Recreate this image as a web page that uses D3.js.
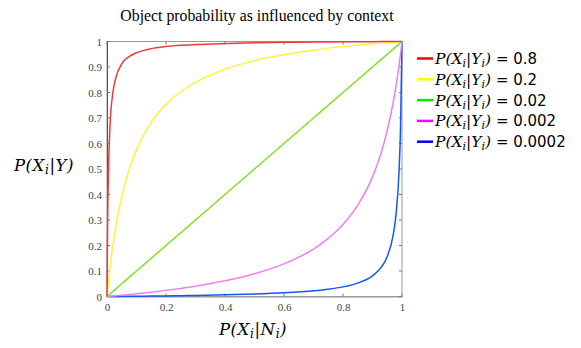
<!DOCTYPE html>
<html><head><meta charset="utf-8">
<script src="https://cdn.jsdelivr.net/npm/d3@7"></script>
<style>body{margin:0;background:#fff}</style>
</head><body>
<svg id="c" width="581" height="348"></svg>
<script>
const xs = [0,0.002,0.005,0.01,0.02,0.03,0.05,0.075,0.1,0.15,0.2,0.25,0.3,0.4,0.5,0.6,0.7,0.75,0.8,0.85,0.9,0.93,0.95,0.97,0.98,0.99,0.995,1];
const red = [0,0.282,0.496,0.664,0.8,0.858,0.912,0.941,0.956,0.972,0.98,0.985,0.988,0.992,0.995,0.9966,0.9978,0.9983,0.9987,0.9991,0.9994,0.9996,0.9997,0.9998,0.9999,0.99995,1,1];
const yellow = [0,0.024,0.058,0.110,0.2,0.275,0.392,0.498,0.576,0.684,0.754,0.803,0.84,0.891,0.925,0.948,0.966,0.974,0.98,0.986,0.991,0.9939,0.9957,0.9975,0.9983,0.9992,0.9996,1];
const green = [0,0.002,0.005,0.01,0.02,0.03,0.05,0.075,0.1,0.15,0.2,0.25,0.3,0.4,0.5,0.6,0.7,0.75,0.8,0.85,0.9,0.93,0.95,0.97,0.98,0.99,0.995,1];
const magenta = [0,0.0002,0.0005,0.001,0.002,0.003,0.0051,0.0079,0.0108,0.017,0.024,0.0317,0.0404,0.0614,0.0894,0.128,0.186,0.228,0.282,0.358,0.469,0.566,0.651,0.760,0.828,0.907,0.951,1];
const blue = [0,0.00002,0.00005,0.0001,0.0002,0.0003,0.0005,0.0008,0.0011,0.0017,0.0024,0.0033,0.0042,0.0065,0.0097,0.0145,0.0224,0.0286,0.0377,0.0526,0.081,0.115,0.157,0.241,0.324,0.492,0.661,1];
const legendLabels = ["0.8","0.2","0.02","0.002","0.0002"];
const tickValues = [0,0.2,0.4,0.6,0.8,1];
const yTickValues = [0,0.1,0.2,0.3,0.4,0.5,0.6,0.7,0.8,0.9,1];

const series = [
  {v:red, c:"#f03a3a", lc:"#ff0000"},
  {v:yellow, c:"#fbf53a", lc:"#ffff00"},
  {v:green, c:"#84e020", lc:"#00ee00"},
  {v:magenta, c:"#ee80ee", lc:"#ff00ff"},
  {v:blue, c:"#1458f5", lc:"#0000ff"}
];

const svg = d3.select("#c");
const L=107, R=402, T=41.5, B=296.5;
const x = d3.scaleLinear().domain([0,1]).range([L,R]);
const y = d3.scaleLinear().domain([0,1]).range([B,T]);

svg.append("text").attr("x",257).attr("y",21).attr("text-anchor","middle")
  .attr("font-family","Liberation Serif").attr("font-size",15.8).attr("fill","#000")
  .text("Object probability as influenced by context");

// frame
svg.append("rect").attr("x",L).attr("y",T).attr("width",R-L).attr("height",B-T)
  .attr("fill","none").attr("stroke","#9a9a9a").attr("stroke-width",1);

const xa = svg.append("g").attr("transform",`translate(0,${B})`)
  .call(d3.axisBottom(x).tickValues(tickValues).tickSize(0).tickPadding(7).tickFormat(d3.format("")));
const ya = svg.append("g").attr("transform",`translate(${L},0)`)
  .call(d3.axisLeft(y).tickValues(yTickValues).tickSize(0).tickPadding(5).tickFormat(d3.format("")));
[xa,ya].forEach(g=>{
  g.select(".domain").attr("stroke","#555");
  g.selectAll("text").attr("font-family","Liberation Serif").attr("font-size",11).attr("fill","#444");
});
xa.select(".domain").attr("stroke","#9a9a9a");
// inward ticks
const tk = svg.append("g").attr("stroke","#777").attr("stroke-width",1);
tickValues.forEach(t=>{
  tk.append("line").attr("x1",x(t)).attr("x2",x(t)).attr("y1",B).attr("y2",B-3);
  tk.append("line").attr("x1",x(t)).attr("x2",x(t)).attr("y1",T).attr("y2",T+3);
});
yTickValues.forEach(t=>{
  tk.append("line").attr("x1",L).attr("x2",L+3).attr("y1",y(t)).attr("y2",y(t));
  tk.append("line").attr("x1",R).attr("x2",R-3).attr("y1",y(t)).attr("y2",y(t));
});

const line = d3.line().x((d,i)=>x(xs[i])).y(d=>y(d)).curve(d3.curveMonotoneX);
series.slice().reverse().forEach(s=>{
  svg.append("path").datum(s.v).attr("d",line).attr("fill","none")
    .attr("stroke",s.c).attr("stroke-width",1.5);
});

// axis labels
function mathLabel(g, parts){
  parts.forEach(p=>{
    const ts = g.append("tspan").text(p.t);
    if(p.sub) ts.attr("font-size",12).attr("dy",3);
    if(p.up) ts.attr("dy",-3);
  });
}
const yl = svg.append("text").attr("x",44).attr("y",171).attr("text-anchor","middle")
  .attr("font-family","DejaVu Serif").attr("font-style","italic").attr("font-size",16.5)
  .attr("letter-spacing",0.6);
mathLabel(yl,[{t:"P(X"},{t:"i",sub:true},{t:"|Y)",up:true}]);
const xl = svg.append("text").attr("x",253).attr("y",335).attr("text-anchor","middle")
  .attr("font-family","DejaVu Serif").attr("font-style","italic").attr("font-size",16.5)
  .attr("letter-spacing",0.6);
mathLabel(xl,[{t:"P(X"},{t:"i",sub:true},{t:"|N",up:true},{t:"i",sub:true},{t:")",up:true}]);

// legend
const lg = svg.append("g");
series.forEach((s,i)=>{
  const yy = 58.5 + i*20.8;
  lg.append("line").attr("x1",417).attr("x2",433).attr("y1",yy).attr("y2",yy)
    .attr("stroke",s.lc).attr("stroke-width",2.5);
  const t = lg.append("text").attr("x",435).attr("y",yy+5.5)
    .attr("font-family","DejaVu Serif").attr("font-size",15.5).attr("fill","#000");
  t.append("tspan").attr("font-style","italic").text("P(X");
  t.append("tspan").attr("font-style","italic").attr("font-size",11).attr("dy",3).text("i");
  t.append("tspan").attr("font-style","italic").attr("dy",-3).text("|Y");
  t.append("tspan").attr("font-style","italic").attr("font-size",11).attr("dy",3).text("i");
  t.append("tspan").attr("font-style","italic").attr("dy",-3).text(")");
  t.append("tspan").attr("font-family","DejaVu Sans").attr("font-size",15).text(" = " + legendLabels[i]);
});
</script>
</body></html>
